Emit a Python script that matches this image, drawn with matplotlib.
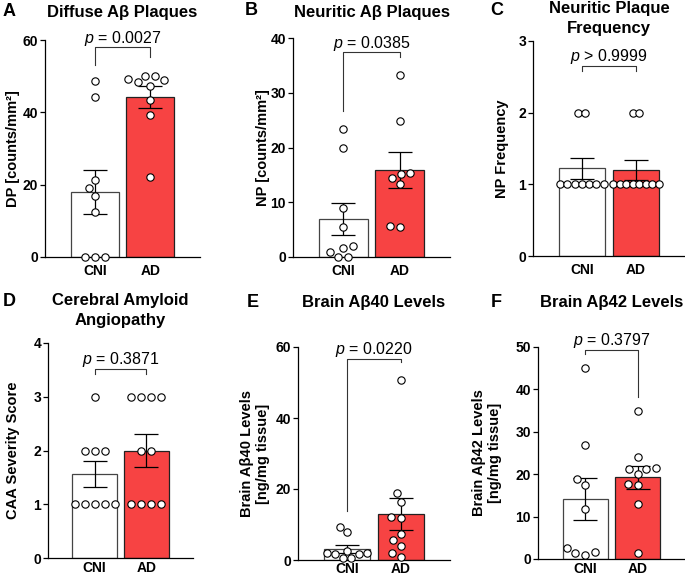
import numpy as np
import matplotlib
matplotlib.use('Agg')
import matplotlib.pyplot as plt

plt.rcParams['font.family'] = ['Liberation Sans', 'DejaVu Sans']
plt.rcParams['mathtext.fontset'] = 'custom'
plt.rcParams['mathtext.it'] = 'Liberation Sans:italic'
plt.rcParams['mathtext.rm'] = 'Liberation Sans'

# ---------------- data ----------------
groups = ['CNI', 'AD']

dp_cni = [0, 0, 0, 12.4, 16.8, 19.0, 21.3, 44.2, 48.8]
dp_ad = [22.0, 39.2, 43.3, 47.4, 48.5, 49.0, 49.2, 50.0, 50.0]

np_cni = [0, 0, 0.85, 1.6, 2.0, 5.5, 8.9, 20.0, 23.3]
np_ad = [5.5, 5.6, 13.3, 14.4, 15.2, 15.4, 24.9, 33.2]

npf_cni = [1, 1, 1, 1, 1, 1, 1, 2, 2]
npf_ad = [1, 1, 1, 1, 1, 1, 1, 1, 2, 2]

caa_cni = [1, 1, 1, 1, 1, 2, 2, 2, 3]
caa_ad = [1, 1, 1, 1, 2, 2, 3, 3, 3, 3]

ab40_cni = [0.5, 0.5, 1.6, 1.6, 1.9, 1.9, 2.6, 8.0, 9.4]
ab40_ad = [0.9, 1.9, 4.0, 5.6, 7.2, 11.8, 12.2, 16.2, 18.8, 50.8]

ab42_cni = [0.9, 1.4, 1.6, 2.6, 11.8, 17.5, 18.9, 26.8, 45.0]
ab42_ad = [1.3, 13.0, 17.4, 17.8, 20.1, 21.2, 21.3, 21.5, 24.1, 35.0]

letters = ['A', 'B', 'C', 'D', 'E', 'F']
titles = [['Diffuse Aβ Plaques'], ['Neuritic Aβ Plaques'],
          ['Neuritic Plaque', 'Frequency'], ['Cerebral Amyloid', 'Angiopathy'],
          ['Brain Aβ40 Levels'], ['Brain Aβ42 Levels']]
ylabels = ['DP [counts/mm²]', 'NP [counts/mm²]', 'NP Frequency',
           'CAA Severity Score', 'Brain Aβ40 Levels\n[ng/mg tissue]',
           'Brain Aβ42 Levels\n[ng/mg tissue]']
pvals = ['= 0.0027', '= 0.0385', '> 0.9999', '= 0.3871', '= 0.0220', '= 0.3797']
ymaxs = [60, 40, 3, 4, 60, 50]
ysteps = [20, 10, 1, 1, 20, 10]
# bracket: top, CNI leg end, AD leg end
brackets = [(58.0, 53.1, 55.2), (37.4, 26.7, 36.6), (2.65, 2.58, 2.58),
            (3.52, 3.42, 3.42), (56.7, 13.9, 55.7), (49.4, 48.4, 38.2)]
datasets = [(dp_cni, dp_ad), (np_cni, np_ad), (npf_cni, npf_ad),
            (caa_cni, caa_ad), (ab40_cni, ab40_ad), (ab42_cni, ab42_ad)]

# ---------------- layout (pixels) ----------------
W, H = 685, 576
rects = [(45, 200, 40, 257), (293, 450, 38, 257), (533, 685, 41, 256),
         (48, 193, 343, 558), (298, 450, 347, 560), (538, 685, 347, 559)]
xpads = [5, 5, 5, 2.5, 1.2, 2.5]
title_base = [[17], [17], [13.5, 33.5], [305.5, 325.5], [307], [307]]
letter_pos = [(3, 16), (245, 15), (490, 15), (3, 306.5), (247, 307), (491, 307)]
ylabel_x = [13, 263, 502, 13, 255, 487]
XLIM = (-0.9, 1.9)
RED = '#F74343'


def fx(px):
    return px / W


def fy(py):
    return 1 - py / H


def place(ypx, d):
    n = len(ypx)
    xs = np.zeros(n)
    uniq, counts = np.unique(ypx, return_counts=True)
    order = sorted(zip(uniq, counts), key=lambda t: (-t[1], t[0]))
    placed = []

    def ok(x, y):
        return all((x - a) ** 2 + (y - b) ** 2 >= d * d - 1e-6 for a, b in placed)

    for yv, k in order:
        idx = np.where(ypx == yv)[0]
        sym = [(i - (k - 1) / 2) * d for i in range(k)]
        if all(ok(x, yv) for x in sym):
            for i, x in zip(idx, sym):
                xs[i] = x
                placed.append((x, yv))
        else:
            for i in idx:
                cands = [0.0]
                for a, b in placed:
                    dy = abs(b - yv)
                    if dy < d:
                        dx = np.sqrt(d * d - dy * dy)
                        cands += [a + dx, a - dx]
                cands.sort(key=lambda c: (abs(c), c))
                for c in cands:
                    if ok(c, yv):
                        xs[i] = c
                        placed.append((c, yv))
                        break
    return xs


def swarm(vals, ypu, xpu, d0=10.0, half=22.0):
    ypx = np.asarray(vals, float) * ypu
    d = d0
    while True:
        xs = place(ypx, d)
        if np.max(np.abs(xs)) <= half or d <= 6.5:
            return xs / xpu
        d -= 0.25


fig = plt.figure(figsize=(W / 100, H / 100), dpi=100)

for k in range(6):
    l, r, t, b = rects[k]
    ax = fig.add_axes([fx(l), fy(b), (r - l) / W, (b - t) / H])
    ymax = ymaxs[k]
    ax.set_xlim(*XLIM)
    ax.set_ylim(0, ymax)
    ypu = (b - t) / ymax
    xpu = (r - l) / (XLIM[1] - XLIM[0])
    cni, ad = datasets[k]
    for gi, (vals, fc, ec) in enumerate([(cni, 'white', '#444444'), (ad, RED, '#222222')]):
        v = np.asarray(vals, float)
        m = v.mean()
        sem = v.std(ddof=1) / np.sqrt(len(v))
        ax.bar(gi, m, width=0.86, color=fc, edgecolor=ec, linewidth=0.9, zorder=1)
        ax.errorbar(gi, m, yerr=sem, color='black', capsize=8.5, elinewidth=0.9,
                    capthick=0.9, zorder=2)
        offs = swarm(v, ypu, xpu)
        ax.scatter(gi + offs, v, s=28, facecolor='white', edgecolor='black',
                   linewidths=0.8, zorder=3, clip_on=False)
    top, l0, l1 = brackets[k]
    ax.plot([0, 0, 1, 1], [l0, top, top, l1], color='#333333', lw=0.8,
            zorder=2, clip_on=False)
    ax.annotate(r'$\it{p}$ ' + pvals[k], xy=(0.5, top), xytext=(0, 3.3),
                textcoords='offset points', ha='center', va='baseline',
                fontsize=11.5, annotation_clip=False)
    ax.set_yticks(np.arange(0, ymax + 0.001, ysteps[k]))
    ax.set_xticks([0, 1])
    ax.set_xticklabels(groups)
    for s in ['top', 'right']:
        ax.spines[s].set_visible(False)
    for s in ['left', 'bottom']:
        ax.spines[s].set_linewidth(0.9)
    ax.tick_params(axis='x', length=0, pad=xpads[k], labelsize=10)
    ax.tick_params(axis='y', length=3.5, width=0.9, pad=1.5, labelsize=10)
    for lab in ax.get_xticklabels() + ax.get_yticklabels():
        lab.set_fontweight('bold')
    # title
    cx = (l + r) / 2
    for line, yb in zip(titles[k], title_base[k]):
        fig.text(fx(cx), fy(yb), line, ha='center', va='baseline',
                 fontsize=12, fontweight='bold')
    lx, ly = letter_pos[k]
    fig.text(fx(lx), fy(ly), letters[k], ha='left', va='baseline',
             fontsize=13, fontweight='bold')
    fig.text(fx(ylabel_x[k]), fy((t + b) / 2), ylabels[k], rotation=90,
             ha='center', va='center', rotation_mode='anchor',
             multialignment='center', fontsize=10.5, fontweight='bold')

fig.savefig('out.png', dpi=100)
